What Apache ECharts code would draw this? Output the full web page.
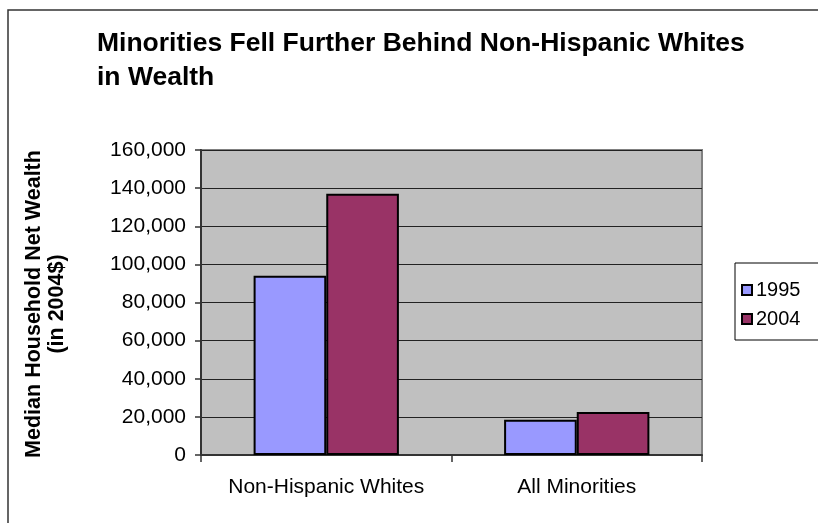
<!DOCTYPE html>
<html>
<head>
<meta charset="utf-8">
<script src="https://cdn.jsdelivr.net/npm/echarts@6/dist/echarts.min.js"></script>
<style>
html,body{margin:0;padding:0;background:#fff;}
#chart{width:818px;height:523px;}
</style>
</head>
<body>
<div id="chart"></div>
<script>
const titleText = "Minorities Fell Further Behind Non-Hispanic Whites\nin Wealth";
const yAxisTitle = "Median Household Net Wealth\n(in 2004$)";
const categories = ["Non-Hispanic Whites", "All Minorities"];
const seriesNames = ["1995", "2004"];
const values1995 = [94000, 18500];
const values2004 = [137000, 22500];
const yTicks = [0, 20000, 40000, 60000, 80000, 100000, 120000, 140000, 160000];

const FONT = "'Liberation Sans', Arial, sans-serif";
const chart = echarts.init(document.getElementById('chart'), null, {renderer: 'canvas'});

function fmt(v) {
  return String(v).replace(/\B(?=(\d{3})+(?!\d))/g, ",");
}

chart.setOption({
  backgroundColor: '#ffffff',
  animation: false,
  title: {
    text: titleText,
    left: 92,
    top: 22,
    textStyle: {fontFamily: FONT, fontSize: 26.5, fontWeight: 'bold', color: '#000', lineHeight: 34}
  },
  graphic: [
    {
      type: 'rect',
      shape: {x: 8, y: 10, width: 830, height: 540},
      style: {fill: 'none', stroke: '#333', lineWidth: 1.5},
      silent: true
    },
    {
      type: 'text',
      x: 46, y: 304,
      rotation: Math.PI / 2,
      style: {
        text: yAxisTitle,
        fontFamily: FONT, fontSize: 21.5, fontWeight: 'bold', fill: '#000',
        lineHeight: 23, align: 'center', verticalAlign: 'middle'
      },
      silent: true
    }
  ],
  legend: {
    data: seriesNames,
    orient: 'vertical',
    left: 735,
    top: 263,
    backgroundColor: '#fff',
    borderColor: '#000',
    borderWidth: 1,
    borderRadius: 0,
    padding: [17, 30, 11, 6],
    itemGap: 9,
    itemWidth: 10,
    itemHeight: 10,
    icon: 'rect',
    textStyle: {fontFamily: FONT, fontSize: 20, color: '#000', padding: [0, 0, 0, -1]}
  },
  grid: {
    left: 201, right: 116, top: 150, bottom: 68,
    show: true,
    backgroundColor: '#c0c0c0',
    borderColor: '#808080',
    borderWidth: 2
  },
  xAxis: {
    type: 'category',
    data: categories,
    axisLine: {show: true, lineStyle: {color: '#333', width: 2}},
    axisTick: {show: true, interval: 0, length: 7, alignWithLabel: false, lineStyle: {color: '#333', width: 1.5}},
    axisLabel: {fontFamily: FONT, fontSize: 21, color: '#000', margin: 22, interval: 0},
    splitLine: {show: false}
  },
  yAxis: {
    type: 'value',
    min: 0,
    max: 160000,
    interval: 20000,
    axisLine: {show: true, lineStyle: {color: '#333', width: 2}},
    axisTick: {show: true, length: 6, inside: false, lineStyle: {color: '#333', width: 1.5}},
    axisLabel: {
      fontFamily: FONT, fontSize: 21, color: '#000', margin: 15,
      formatter: function (v) { return yTicks.indexOf(v) >= 0 ? fmt(v) : ''; }
    },
    splitLine: {show: true, lineStyle: {color: '#222', width: 1.2}}
  },
  series: [
    {
      name: seriesNames[0],
      type: 'bar',
      data: values1995,
      barGap: '0%',
      barCategoryGap: '42%',
      itemStyle: {color: '#9999ff', borderColor: '#000', borderWidth: 2}
    },
    {
      name: seriesNames[1],
      type: 'bar',
      data: values2004,
      barGap: '0%',
      barCategoryGap: '42%',
      itemStyle: {color: '#993366', borderColor: '#000', borderWidth: 2}
    }
  ]
});
</script>
</body>
</html>
